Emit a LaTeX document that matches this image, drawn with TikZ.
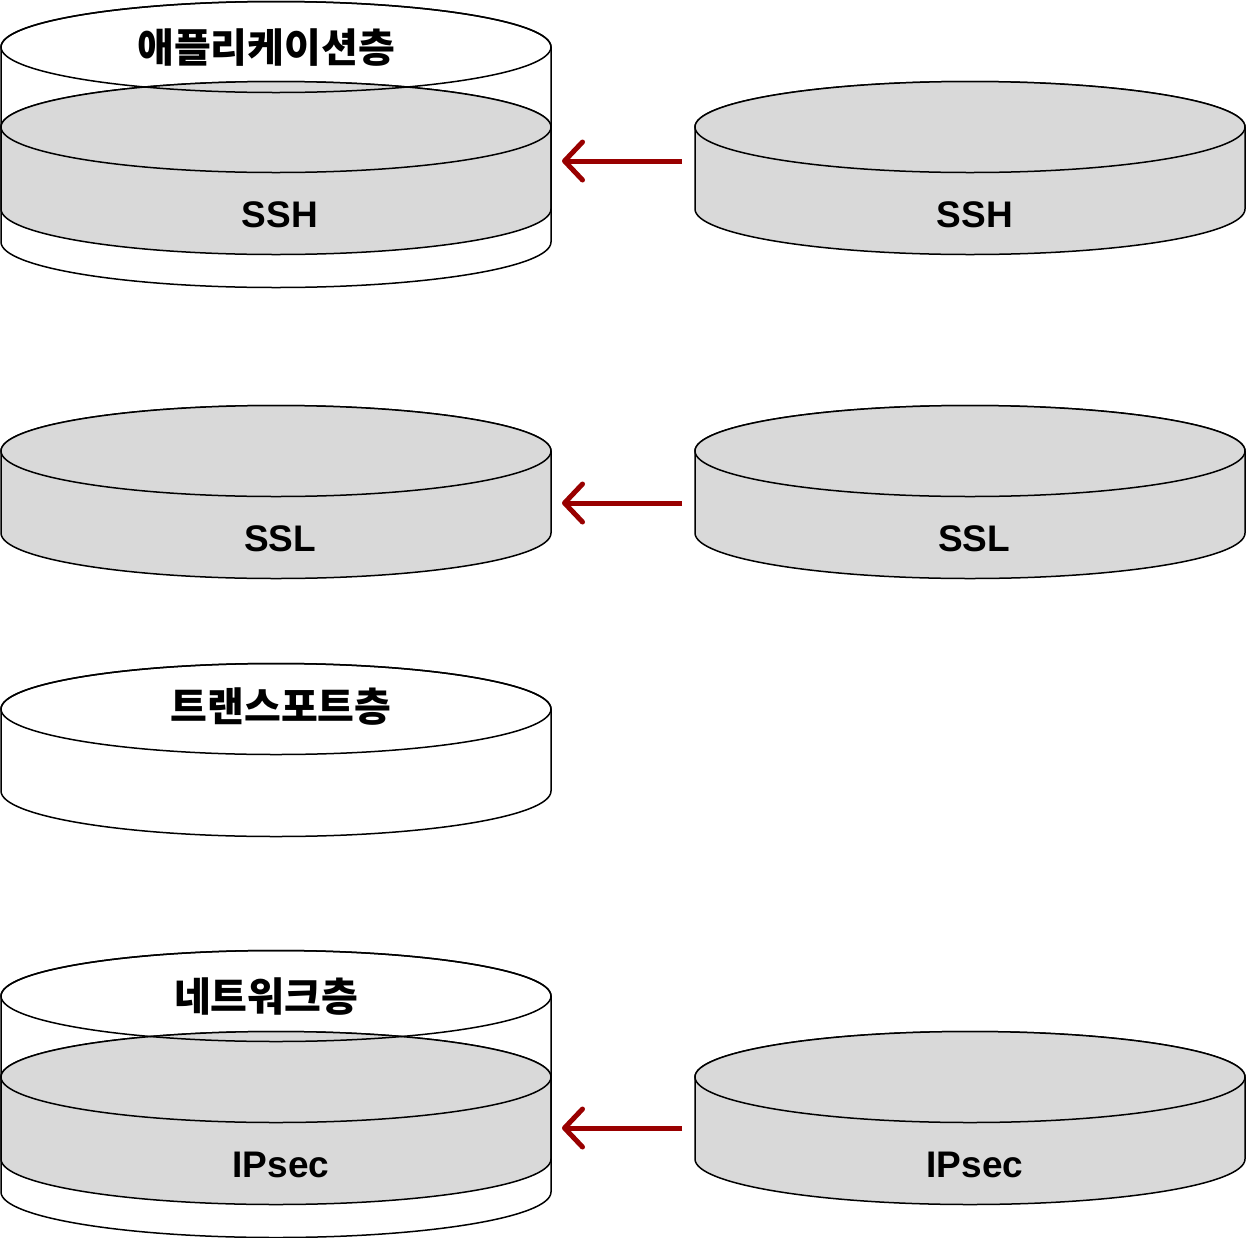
\documentclass[tikz,border=0pt]{standalone}
\usepackage{fontspec}
\newfontfamily\kfont{Noto Sans CJK KR}
\newfontfamily\lfont{Liberation Sans}
\usetikzlibrary{arrows.meta}
\definecolor{cylgrey}{HTML}{D9D9D9}
\definecolor{arrred}{HTML}{990000}
\newcommand\cylbody[4]{%
  \path[#4] (#1-275,#2) -- (#1-275,#3)
    arc[start angle=180,end angle=0,x radius=275,y radius=45.5]
    -- (#1+275,#2)
    arc[start angle=0,end angle=-180,x radius=275,y radius=45.5] -- cycle;
  \draw[#4] (#1,#2) ellipse[x radius=275,y radius=45.5];}
\begin{document}
\begin{tikzpicture}[x=1bp,y=-1bp,
  greycyl/.style={fill=cylgrey,draw=black,line width=1.5bp},
  whitecyl/.style={draw=black,line width=1.5bp},
  klabel/.style={font=\kfont\bfseries\fontsize{40bp}{44bp}\selectfont,anchor=base,inner sep=0pt},
  llabel/.style={font=\lfont\bfseries\fontsize{37bp}{40bp}\selectfont,anchor=base,inner sep=0pt},
  secarrow/.style={draw=arrred,line width=5bp,-{Straight Barb[length=18bp,width=38bp,round]}}]
\fill[white] (0,0) rectangle (1246,1238);
\useasboundingbox (0,0) rectangle (1246,1238);
% application layer
\cylbody{276}{127}{209}{greycyl}
\cylbody{276}{47}{242}{whitecyl}
\cylbody{970}{127}{209}{greycyl}
% SSL
\cylbody{276}{451}{533}{greycyl}
\cylbody{970}{451}{533}{greycyl}
% transport
\cylbody{276}{709}{791}{whitecyl}
% network
\cylbody{276}{1077}{1159}{greycyl}
\cylbody{276}{996}{1192}{whitecyl}
\cylbody{970}{1077}{1159}{greycyl}
% labels
\node[klabel] (app) at (266,62) {애플리케이션층};
\node[llabel] (sshL) at (280,227) {SSH};
\node[llabel] (sshR) at (975,227) {SSH};
\node[llabel] (sslL) at (280,551) {SSL};
\node[llabel] (sslR) at (974,551) {SSL};
\node[klabel] (trans) at (281,721) {트랜스포트층};
\node[klabel] (net) at (266,1011) {네트워크층};
\node[llabel] (ipL) at (281,1177) {IPsec};
\node[llabel] (ipR) at (975,1177) {IPsec};
% arrows
\coordinate (a1s) at (682,161); \coordinate (a1e) at (562,161);
\coordinate (a2s) at (682,503); \coordinate (a2e) at (562,503);
\coordinate (a3s) at (682,1128); \coordinate (a3e) at (562,1128);
\draw[secarrow] (a1s) -- (a1e);
\draw[secarrow] (a2s) -- (a2e);
\draw[secarrow] (a3s) -- (a3e);
\end{tikzpicture}
\end{document}
